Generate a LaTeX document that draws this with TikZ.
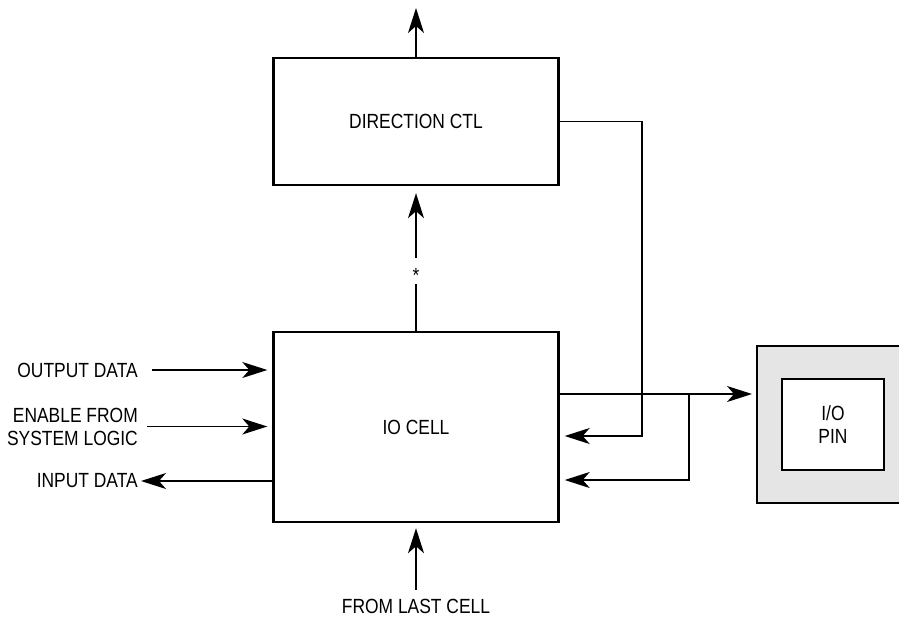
\documentclass[tikz,border=0pt]{standalone}
\usepackage{fontspec}
\setmainfont{Liberation Sans}[FakeStretch=0.85]
\usetikzlibrary{arrows.meta}

\begin{document}
\begin{tikzpicture}[x=1pt,y=-1pt,
  font=\fontsize{20.5pt}{23pt}\selectfont,
  block/.style={draw,line width=2.4pt,minimum width=285pt,inner sep=0pt},
  wire/.style={line width=1.4pt},
  sig/.style={wire,-{Stealth[length=25pt,width=16pt,inset=7pt]}},
  lbl/.style={inner sep=0pt,align=right,anchor=east}]
  \useasboundingbox (0,0) rectangle (899,618);
  \node[block,minimum height=127pt] (dir) at (416,121.5) {DIRECTION CTL};
  \node[block,minimum height=190pt] (io) at (416,427) {IO CELL};
  \begin{scope}
    \clip (0,0) rectangle (899,618);
    \node[draw,line width=2.4pt,fill=gray!20,minimum width=170pt,minimum height=157pt,anchor=north west] (pin) at (756,345) {};
  \end{scope}
  \node[draw,line width=2pt,fill=white,minimum width=102pt,minimum height=91pt,align=center] (pincore) at (833,424.5) {I/O\\PIN};
  \node[lbl] (outdata) at (138,370) {OUTPUT DATA};
  \node[lbl] (enable) at (138,426.5) {ENABLE FROM\\SYSTEM LOGIC};
  \node[lbl] (indata) at (138,481) {INPUT DATA};
  \node[inner sep=0pt] (last) at (416,606) {FROM LAST CELL};
  \node[inner sep=0pt,minimum height=26pt,text height=22pt,text depth=0pt] (star) at (416,271) {*};
  \coordinate (dirout) at (416,8);
  \coordinate (tap) at (689,394);
  \coordinate (fbturn) at (689,480);
  \coordinate (ctlturn) at (642,436);
  \draw[sig] (dir.north) -- (dirout);
  \draw[wire] (io.north) -- (star.south);
  \draw[sig,shorten >=7pt] (star.north) -- (dir.south);
  \draw[sig,shorten <=14pt,shorten >=5pt] (outdata.east) -- (outdata -| io.west);
  \draw[sig,shorten <=9pt,shorten >=5pt] (enable.east) -- (enable -| io.west);
  \draw[sig,shorten >=3pt] (indata -| io.west) -- (indata.east);
  \draw[sig,shorten <=9pt,shorten >=5pt] (last.north) -- (last.north |- io.south);
  \draw[sig,shorten >=4pt] (tap -| io.east) -- (tap -| pin.west);
  \draw[sig,shorten >=5pt] (tap) -- (fbturn) -- (fbturn -| io.east);
  \draw[sig,shorten >=5pt] (dir.east) -| (ctlturn) -- (ctlturn -| io.east);
\end{tikzpicture}
\end{document}
